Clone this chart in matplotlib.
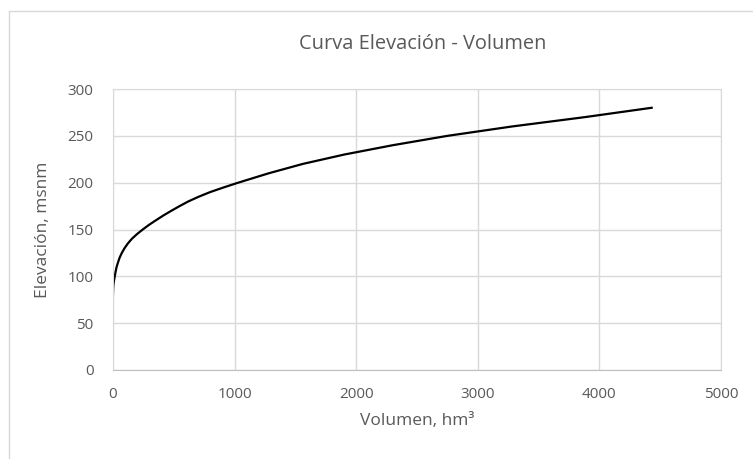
import matplotlib
matplotlib.use("Agg")
import matplotlib.pyplot as plt
from matplotlib.lines import Line2D

# Elevation - volume table
elevacion = [80, 85, 90, 95, 100, 105, 110, 115, 120, 125, 130, 135, 140,
             145, 150, 155, 160, 165, 170, 175, 180, 185, 190, 195, 200,
             210, 220, 230, 240, 250, 260, 270, 280]
volumen = [0, 1, 3, 8, 15, 22, 30, 42, 55, 73, 95, 122, 155,
           197, 245, 297, 355, 415, 480, 548, 620, 705, 800, 912, 1030,
           1280, 1560, 1900, 2300, 2750, 3280, 3880, 4430]

x_ticks = [0, 1000, 2000, 3000, 4000, 5000]
y_ticks = [0, 50, 100, 150, 200, 250, 300]

plt.rcParams['font.family'] = ['Open Sans', 'DejaVu Sans']
txt = '#595959'
grid = '#d9d9d9'

fig = plt.figure(figsize=(7.53, 4.59), dpi=100)
ax = fig.add_axes([0.150, 0.194, 0.8075, 0.612])

ax.plot(volumen, elevacion, color='black', lw=1.6, solid_joinstyle='round')

ax.set_xlim(0, 5000)
ax.set_ylim(0, 300)
ax.set_xticks(x_ticks)
ax.set_yticks(y_ticks)
ax.grid(True, color=grid, lw=1)
ax.set_axisbelow(True)
for s in ax.spines.values():
    s.set_color(grid)
ax.spines['bottom'].set_color('#bfbfbf')
ax.tick_params(length=0, labelsize=11, colors=txt)
ax.tick_params(axis='x', pad=12)
ax.tick_params(axis='y', pad=14)

ax.set_xlabel('Volumen, hm³', fontsize=12.5, color=txt, labelpad=8)
ax.set_ylabel('Elevación, msnm', fontsize=12.5, color=txt, labelpad=12)
fig.text(0.561, 0.905, 'Curva Elevación - Volumen', fontsize=14.4,
         color=txt, ha='center', va='center')

# chart frame (left and top edges visible)
fig.add_artist(Line2D([9/753, 9/753], [0, 1 - 11/459], transform=fig.transFigure,
                      color=grid, lw=1))
fig.add_artist(Line2D([9/753, 1], [1 - 11/459, 1 - 11/459], transform=fig.transFigure,
                      color=grid, lw=1))

fig.savefig('out.png', dpi=100)
